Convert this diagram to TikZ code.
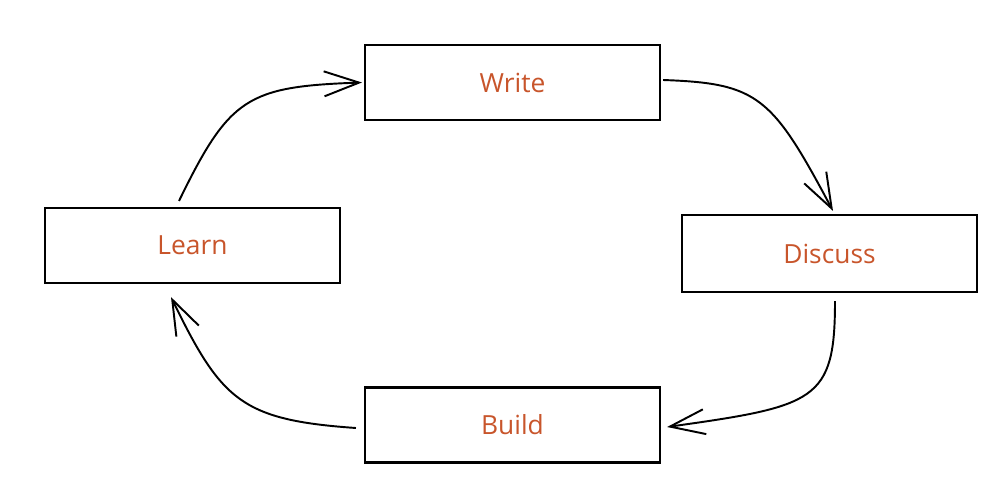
\documentclass[tikz,border=0pt]{standalone}
\usepackage{fontspec}
\setmainfont{Open Sans}
\usetikzlibrary{arrows.meta}
\definecolor{labelred}{HTML}{C8552B}
\begin{document}
\begin{tikzpicture}[
    stagebox/.style={draw,line width=1.2pt,minimum width=5.9cm,minimum height=1.5cm,text=labelred,font=\fontsize{15}{18}\selectfont},
    flow/.style={line width=1.1pt,-{Straight Barb[length=0.7cm,width=0.5cm,line width=1.1pt]}}
]
                \useasboundingbox (0,0) rectangle (20,10.06);
                \node[stagebox] (W) at (10.25,8.41) {Write};
                \node[stagebox] (L) at (3.85,5.15) {Learn};
                \node[stagebox,minimum height=1.54cm] (D) at (16.59,4.99) {Discuss};
                \node[stagebox] (B) at (10.25,1.56) {Build};
                \draw[flow] ([xshift=-0.27cm,yshift=0.12cm]L.north) .. controls +(64:2.3cm) and +(182:2.3cm) .. ([xshift=-0.04cm]W.west);
                \draw[flow] ([xshift=0.04cm,yshift=0.05cm]W.east) .. controls +(-2:1.9cm) and +(118:2.6cm) .. ([xshift=0.07cm,yshift=0.06cm]D.north);
                \draw[flow] ([xshift=0.11cm,yshift=-0.16cm]D.south) .. controls +(-90:2cm) and +(8:3cm) .. ([xshift=0.12cm,yshift=-0.04cm]B.east);
                \draw[flow] ([xshift=-0.16cm,yshift=-0.06cm]B.west) .. controls +(176:2.3cm) and +(-64:2.3cm) .. ([xshift=-0.43cm,yshift=-0.26cm]L.south);
            \end{tikzpicture}
\end{document}
